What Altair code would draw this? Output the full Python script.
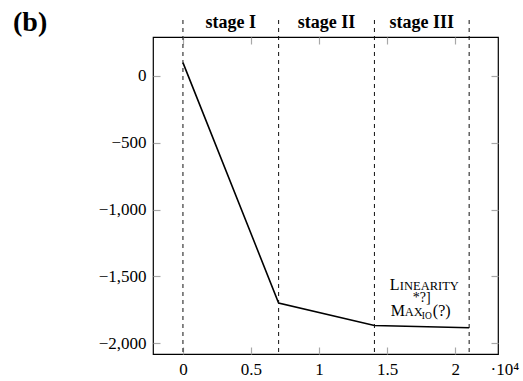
import altair as alt
import pandas as pd

# ---- data ----
line_x = [0, 7030, 14070, 21030]
line_y = [100, -1700, -1868, -1885]

stage_bounds = [0, 7030, 14070, 21030]
stage_names = ["stage I", "stage II", "stage III"]

x_ticks = [0, 5000, 10000, 15000, 20000]
y_ticks = [0, -500, -1000, -1500, -2000]

x_domain = [-2200, 23150]
y_domain = [-2082, 292]

anno_x = [15200]
anno_y = [-1795]

FONT = "Liberation Serif"
W, H = 345, 317
TICK = "#a8a8a8"

line_df = pd.DataFrame({"x": line_x, "y": line_y})
bounds_df = pd.DataFrame({"x": stage_bounds})
stage_df = pd.DataFrame({
    "x": [(stage_bounds[i] + stage_bounds[i + 1]) / 2 for i in range(len(stage_names))],
    "label": stage_names,
})
anno_df = pd.DataFrame({"x": anno_x, "y": anno_y})

xs = alt.Scale(domain=x_domain, nice=False, zero=False)
ys = alt.Scale(domain=y_domain, nice=False, zero=False)

def inner_axis(orient, values):
    return alt.Axis(orient=orient, values=values, labels=False, domain=False, grid=False,
                    ticks=True, tickSize=7, offset=-7, tickColor=TICK, tickWidth=1.2,
                    title=None)

# main curve, bottom + left axes
curve = alt.Chart(line_df).mark_line(color="#000", strokeWidth=1.6).encode(
    x=alt.X("x:Q", scale=xs,
            axis=alt.Axis(orient="bottom", values=x_ticks, domain=False, grid=False,
                          tickSize=7, offset=-7, tickColor=TICK, tickWidth=1.2,
                          labelFont=FONT, labelFontSize=17, labelColor="#000",
                          labelPadding=7, labelExpr="datum.value / 10000",
                          title="·10⁴", titleFont=FONT, titleFontSize=17,
                          titleFontWeight="normal", titleColor="#000",
                          titleAnchor="end", titleAlign="left", titleX=W - 8, titleY=14,
                          titleBaseline="top")),
    y=alt.Y("y:Q", scale=ys,
            axis=alt.Axis(orient="left", values=y_ticks, domain=False, grid=False,
                          tickSize=7, offset=-7, tickColor=TICK, tickWidth=1.2, format=",d",
                          labelFont=FONT, labelFontSize=17, labelColor="#000",
                          labelPadding=7, title=None)),
)

# dashed stage boundaries
rules = alt.Chart(bounds_df).mark_rule(color="#111", strokeWidth=1, strokeDash=[4, 4]).encode(
    x=alt.X("x:Q", scale=xs, axis=None),
    y=alt.value(-17),
    y2=alt.value(H),
)

stages = alt.Chart(stage_df).mark_text(font=FONT, fontSize=18, fontWeight="bold",
                                       color="#000", baseline="alphabetic").encode(
    x=alt.X("x:Q", scale=xs, axis=None),
    y=alt.value(-9),
    text="label:N",
)

# annotation pieces (small caps imitation); one piece carries the mirrored top/right ticks
def piece(text, dx, dy, size, xaxis=None, yaxis=None):
    return alt.Chart(anno_df).mark_text(
        text=text, font=FONT, fontSize=size, color="#000", align="left",
        baseline="alphabetic", dx=dx, dy=dy,
    ).encode(
        x=alt.X("x:Q", scale=xs, axis=xaxis),
        y=alt.Y("y:Q", scale=ys, axis=yaxis),
    )

anno = [
    piece("L", 0, -26, 16, xaxis=inner_axis("top", x_ticks), yaxis=inner_axis("right", y_ticks)),
    piece("INEARITY", 10, -26, 12.5),
    piece("*?]", 23, -14, 14),
    piece("M", 1, 0, 16),
    piece("AX", 15, 0, 12.5),
    piece("IO", 32, 3, 9.5),
    piece("(?)", 43, 0, 16),
]

chart = alt.layer(curve, rules, stages, *anno).resolve_axis(
    x="independent", y="independent"
).properties(
    width=W, height=H,
    background="white",
    autosize=alt.AutoSizeParams(type="none"),
    padding={"left": 153, "top": 37, "right": 25, "bottom": 27},
    title=alt.TitleParams("(b)", anchor="start", frame="group", dx=-140, dy=23,
                          fontSize=28, font=FONT, fontWeight="bold", color="#000",
                          offset=0),
).configure_view(stroke="#000", strokeWidth=1.2)

chart.save("out.html", embed_options={"renderer": "svg", "actions": False})
